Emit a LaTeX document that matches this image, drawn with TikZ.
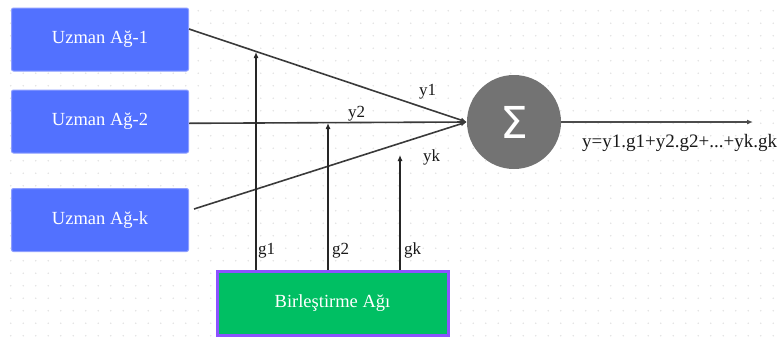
\documentclass[tikz,border=0pt]{standalone}
\usepackage{fontspec}
\setmainfont{Liberation Serif}
\newfontfamily\sigmafont{DejaVu Sans}
\usepackage{xcolor}
\usetikzlibrary{arrows.meta,calc}

\definecolor{expblue}{HTML}{5271FF}
\definecolor{expedge}{HTML}{8D9EFF}
\definecolor{combgreen}{HTML}{00BF63}
\definecolor{combedge}{HTML}{8C52FF}
\definecolor{sumgray}{HTML}{737373}
\definecolor{dotgray}{HTML}{E2E2E2}
\definecolor{wire}{HTML}{3A3A3A}

\begin{document}
\begin{tikzpicture}[
  x=1pt, y=-1pt,
  >={Latex[length=6pt,width=5pt]},
  expert/.style  ={draw=expedge, fill=expblue, line width=1pt, rounded corners=2pt,
                   minimum width=177pt, minimum height=63pt, inner sep=0pt,
                   text=white, font=\fontsize{18.5}{22}\selectfont},
  combiner/.style={draw=combedge, fill=combgreen, line width=3pt,
                   minimum width=231pt, minimum height=64pt, inner sep=0pt,
                   text=white, font=\fontsize{18.5}{22}\selectfont},
  sumnode/.style ={circle, fill=sumgray, minimum size=94pt, inner sep=0pt,
                   text=white, font=\sigmafont\fontsize{44}{44}\selectfont},
  inarr/.style   ={->, draw=wire, line width=1.6pt},
  garr/.style    ={->, draw=black!85, line width=1.1pt},
  outarr/.style  ={->, draw=black!70, line width=1.5pt},
  lbl/.style     ={inner sep=0pt, text=black!90, font=\fontsize{17}{20}\selectfont}
]
  \useasboundingbox (0,0) rectangle (779,338);

  % dotted background
  \foreach \i in {0,...,61}
    \foreach \j in {0,...,26}
      \fill[dotgray] (10.7+12.5*\i, 10.7+12.5*\j) circle (0.9);

  % expert networks
  \node[expert] (e1) at (100,39.5)  {Uzman Ağ-1};
  \node[expert] (e2) at (100,121.5) {Uzman Ağ-2};
  \node[expert] (ek) at (100,220)   {Uzman Ağ-k};

  % combining network and summation
  \node[combiner] (comb) at (332.5,303.5) {Birleştirme Ağı};
  \node[sumnode]  (sum)  at (514,122)     {Σ};

  % free ends
  \coordinate (out)   at (753,122);
  \coordinate (g1tip) at (256,52);
  \coordinate (g2tip) at (328,123);
  \coordinate (gktip) at (400,155);

  % expert outputs into the sum
  \draw[inarr] ([yshift=10.5pt]e1.east) -- (sum.west);
  \draw[inarr] ([yshift=-1.8pt]e2.east) -- (sum.west);
  \draw[inarr] ([xshift=5pt,yshift=11pt]ek.east) -- (sum.west);

  % gating weights
  \draw[garr] (comb.north -| g1tip) -- (g1tip);
  \draw[garr] (comb.north -| g2tip) -- (g2tip);
  \draw[garr] (comb.north -| gktip) -- (gktip);

  % output
  \draw[outarr] (sum.east) -- (out);

  % labels
  \node[lbl, anchor=base west] (ly1) at (419,95)  {y1};
  \node[lbl, anchor=base west] (ly2) at (348,117) {y2};
  \node[lbl, anchor=base west] (lyk) at (423,161) {yk};
  \node[lbl, anchor=base west] (lg1) at (258,254) {g1};
  \node[lbl, anchor=base west] (lg2) at (332,254) {g2};
  \node[lbl, anchor=base west] (lgk) at (404,254) {gk};
  \node[lbl, anchor=base west, font=\fontsize{19}{22}\selectfont] (leq) at (582,147)
    {y=y1.g1+y2.g2+...+yk.gk};
\end{tikzpicture}
\end{document}
